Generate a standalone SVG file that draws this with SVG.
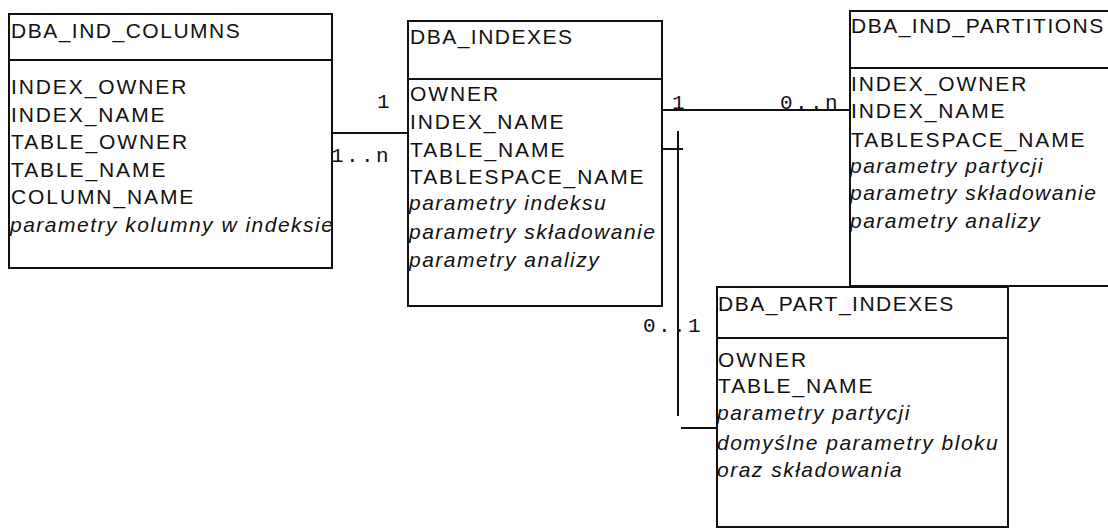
<svg xmlns="http://www.w3.org/2000/svg" width="1108" height="528" viewBox="0 0 1108 528">
<style>
.box{fill:#fff;stroke:#111;stroke-width:2}
.div{stroke:#111;stroke-width:2}
.t{font-family:"Liberation Sans",Arial,sans-serif;font-size:21px;letter-spacing:1.9px;fill:#111}
.h{letter-spacing:1.5px}
.i{font-style:italic;letter-spacing:1.5px}
.m{font-family:"Liberation Mono","Courier New",monospace;font-size:21px;letter-spacing:2.4px;fill:#111}
.c{stroke:#111;stroke-width:2;fill:none}
</style>
<rect width="1108" height="528" fill="#fff"/>
<g id="connectors">
<line class="c" x1="332" y1="133" x2="408" y2="133"/>
<line class="c" x1="662" y1="110" x2="850" y2="110"/>
<line class="c" x1="662" y1="149" x2="683" y2="149"/>
<line class="c" x1="678" y1="131" x2="678" y2="416"/>
<line class="c" x1="681" y1="428" x2="717" y2="428"/>
<text class="m" x="377" y="108">1</text>
<text class="m" x="331" y="162">1..n</text>
<text class="m" x="672" y="109">1</text>
<text class="m" x="780" y="109">0..n</text>
<text class="m" x="643" y="332">0..1</text>
</g>
<g id="dba_ind_columns">
<rect class="box" x="9" y="14" width="323" height="254"/>
<line class="div" x1="9" y1="60" x2="332" y2="60"/>
<text class="t h" x="11" y="38">DBA_IND_COLUMNS</text>
<text class="t" x="11" y="94">INDEX_OWNER</text>
<text class="t" x="11" y="122">INDEX_NAME</text>
<text class="t" x="11" y="149">TABLE_OWNER</text>
<text class="t" x="11" y="177">TABLE_NAME</text>
<text class="t" x="11" y="204">COLUMN_NAME</text>
<text class="t i" x="10" y="232">parametry kolumny w indeksie</text>
</g>
<g id="dba_indexes">
<rect class="box" x="408" y="21" width="254" height="285"/>
<line class="div" x1="408" y1="79" x2="662" y2="79"/>
<text class="t h" x="410" y="44">DBA_INDEXES</text>
<text class="t" x="410" y="101">OWNER</text>
<text class="t" x="410" y="129">INDEX_NAME</text>
<text class="t" x="410" y="157">TABLE_NAME</text>
<text class="t" x="410" y="184">TABLESPACE_NAME</text>
<text class="t i" x="409" y="210">parametry indeksu</text>
<text class="t i" x="409" y="239">parametry składowanie</text>
<text class="t i" x="409" y="267">parametry analizy</text>
</g>
<g id="dba_ind_partitions">
<rect class="box" x="850" y="11" width="280" height="275"/>
<line class="div" x1="850" y1="68" x2="1130" y2="68"/>
<text class="t h" x="851" y="33">DBA_IND_PARTITIONS</text>
<text class="t" x="851" y="91">INDEX_OWNER</text>
<text class="t" x="851" y="118">INDEX_NAME</text>
<text class="t" x="851" y="147">TABLESPACE_NAME</text>
<text class="t i" x="850" y="173">parametry partycji</text>
<text class="t i" x="850" y="200">parametry składowanie</text>
<text class="t i" x="850" y="228">parametry analizy</text>
</g>
<g id="dba_part_indexes">
<rect class="box" x="717" y="287" width="291" height="240"/>
<line class="div" x1="717" y1="338" x2="1008" y2="338"/>
<text class="t h" x="718" y="311">DBA_PART_INDEXES</text>
<text class="t" x="718" y="367">OWNER</text>
<text class="t" x="718" y="393">TABLE_NAME</text>
<text class="t i" x="717" y="420">parametry partycji</text>
<text class="t i" x="717" y="450">domyślne parametry bloku</text>
<text class="t i" x="717" y="477">oraz składowania</text>
</g>
</svg>
